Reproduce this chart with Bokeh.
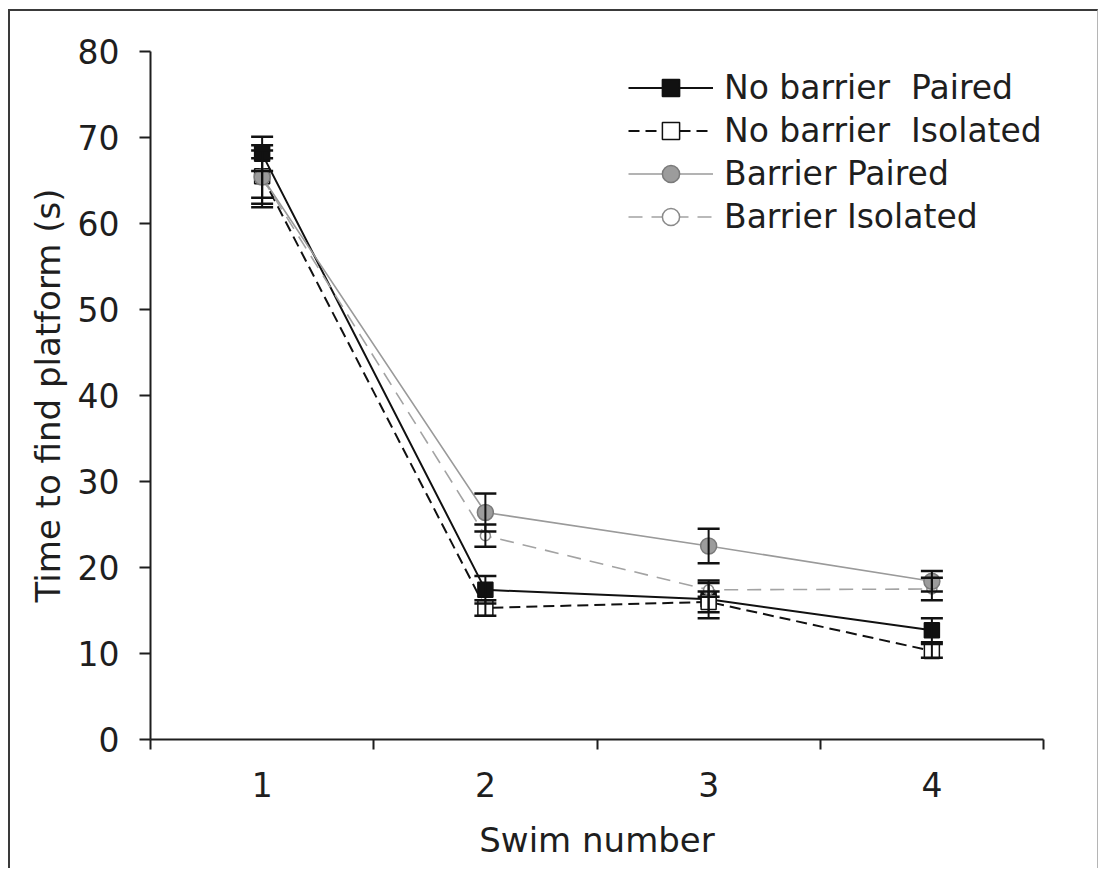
from bokeh.plotting import figure
from bokeh.models import (ColumnDataSource, Range1d, FixedTicker, Whisker, TeeHead,
                          Legend, LegendItem)
from bokeh.embed import file_html
from bokeh.resources import INLINE

# Water-maze learning: latency to reach the platform over four swims
swims = [1, 2, 3, 4]

nb_paired = [68.1, 17.4, 16.3, 12.7]
nb_paired_err = [2.0, 1.6, 2.2, 1.4]

nb_isolated = [65.5, 15.3, 16.0, 10.3]
nb_isolated_err = [3.6, 0.9, 1.2, 0.8]

b_paired = [65.4, 26.4, 22.5, 18.4]
b_paired_err = [3.1, 2.2, 2.0, 1.2]

b_isolated = [65.3, 23.7, 17.4, 17.5]
b_isolated_err = [2.3, 1.3, 0.8, 1.3]

y_ticks = [0, 10, 20, 30, 40, 50, 60, 70, 80]
x_bounds = [0.5, 1.5, 2.5, 3.5, 4.5]

FONT = "DejaVu Sans"
TEXT = "#1e1e1e"

# canvas sits inside a thin page frame (left/top dark, right light)
p = figure(width=1090, height=859, output_backend="svg", toolbar_location=None,
           x_range=Range1d(0.5, 4.5), y_range=Range1d(0, 80),
           min_border_left=140, min_border_right=57,
           min_border_top=40, min_border_bottom=131)
p.margin = (9, 0, 0, 8)
p.styles = {"border-top": "2px solid #3a3a3a",
            "border-left": "2px solid #3a3a3a",
            "border-right": "1px solid #b5b5b5"}
p.outline_line_color = None
p.xgrid.visible = False
p.ygrid.visible = False
p.background_fill_color = "white"
p.border_fill_color = "white"

# axes
xa = p.xaxis[0]
xa.ticker = FixedTicker(ticks=swims, minor_ticks=x_bounds)
xa.major_tick_line_color = None
xa.major_tick_out = 0
xa.major_tick_in = 0
xa.minor_tick_line_color = TEXT
xa.minor_tick_line_width = 2
xa.minor_tick_out = 10
xa.minor_tick_in = 0
xa.major_label_standoff = 22
xa.axis_label = "Swim number"
xa.axis_label_standoff = 20

ya = p.yaxis[0]
ya.ticker = FixedTicker(ticks=y_ticks)
ya.major_tick_out = 11
ya.major_tick_in = 0
ya.major_tick_line_width = 2
ya.major_tick_line_color = TEXT
ya.minor_tick_line_color = None
ya.major_label_standoff = 20
ya.axis_label = "Time to find platform (s)"
ya.axis_label_standoff = 7

for ax in (xa, ya):
    ax.axis_line_width = 2
    ax.axis_line_color = TEXT
    ax.major_label_text_font = FONT
    ax.major_label_text_font_size = "33px"
    ax.major_label_text_color = TEXT
    ax.axis_label_text_font = FONT
    ax.axis_label_text_font_size = "34px"
    ax.axis_label_text_font_style = "normal"
    ax.axis_label_text_color = TEXT

# drawn bottom to top
series = [
    dict(name="No barrier  Paired", y=nb_paired, err=nb_paired_err,
         color="#111111", width=2, dash="solid",
         marker="square", size=15, fill="#111111", edge="#111111"),
    dict(name="No barrier  Isolated", y=nb_isolated, err=nb_isolated_err,
         color="#111111", width=2, dash="11 6",
         marker="square", size=15, fill="white", edge="#111111"),
    dict(name="Barrier Isolated", y=b_isolated, err=b_isolated_err,
         color="#a3a3a3", width=1.6, dash="14 9",
         marker="circle", size=10, fill="white", edge="#8a8a8a"),
    dict(name="Barrier Paired", y=b_paired, err=b_paired_err,
         color="#9a9a9a", width=1.6, dash="solid",
         marker="circle", size=16, fill="#9c9c9c", edge="#7a7a7a"),
]

items = {}
for s in series:
    lo = [v - e for v, e in zip(s["y"], s["err"])]
    hi = [v + e for v, e in zip(s["y"], s["err"])]
    src = ColumnDataSource(dict(x=swims, y=s["y"], lower=lo, upper=hi))
    w = Whisker(base="x", lower="lower", upper="upper", source=src,
                line_color="#111111", line_width=2, level="glyph",
                upper_head=TeeHead(size=22, line_color="#111111", line_width=2.5),
                lower_head=TeeHead(size=22, line_color="#111111", line_width=2.5))
    p.add_layout(w)
    ln = p.line("x", "y", source=src, line_color=s["color"], line_width=s["width"],
                line_dash=s["dash"])
    mk = p.scatter("x", "y", source=src, marker=s["marker"], size=s["size"],
                   fill_color=s["fill"], line_color=s["edge"], line_width=1.5)
    items[s["name"]] = [ln, mk]

order = ["No barrier  Paired", "No barrier  Isolated", "Barrier Paired", "Barrier Isolated"]
legend = Legend(items=[LegendItem(label=n, renderers=items[n]) for n in order],
                location=(478, 501), padding=0, margin=0, spacing=0,
                glyph_width=85, glyph_height=43, label_height=43,
                label_standoff=11, border_line_color=None,
                background_fill_alpha=0,
                label_text_font=FONT, label_text_font_size="33px",
                label_text_color=TEXT)
p.add_layout(legend)

open("out.html", "w").write(file_html(p, INLINE))
